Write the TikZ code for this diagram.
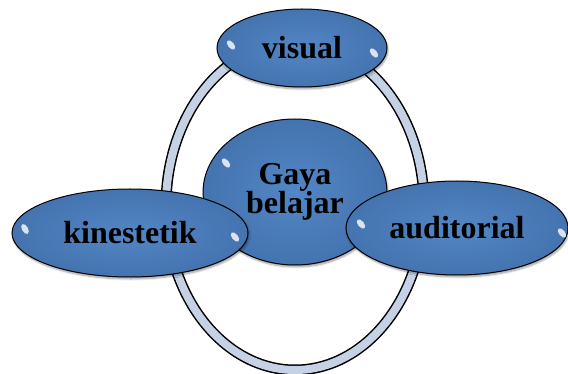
\documentclass[tikz,border=0pt]{standalone}
\usepackage{fontspec}
\setmainfont{Liberation Serif}
\usetikzlibrary{shapes.geometric,shadows.blur}
\definecolor{bubble}{HTML}{5286C4}
\definecolor{bubbleedge}{HTML}{4474B0}
\definecolor{ringfill}{HTML}{C5D1E4}
\tikzset{
  bub/.style={ellipse, draw=black, line width=1pt, inner color=bubble, outer color=bubbleedge,
    blur shadow={shadow xshift=1pt, shadow yshift=-2pt, shadow blur steps=6, shadow opacity=40},
    font=\bfseries\fontsize{32}{34}\selectfont, text=black, inner sep=0pt},
  glint/.style={fill=white, opacity=0.8, ellipse, inner sep=0pt, minimum width=6pt, minimum height=11pt}
}
\begin{document}
\begin{tikzpicture}[x=1pt,y=-1pt]
\useasboundingbox (0,0) rectangle (568,374);
% ring
\draw[line width=11pt, black] (295,206) ellipse [x radius=129, y radius=164];
\draw[line width=8pt, ringfill] (295,206) ellipse [x radius=129, y radius=164];
% nodes
\node[bub, minimum width=180pt, minimum height=146pt, align=center, text width=130pt] (center) at (295,192) {Gaya\\[-5pt]belajar};
\node[bub, minimum width=170pt, minimum height=78pt] (visual) at (302,48) {visual};
\node[bub, minimum width=236pt, minimum height=88pt] (kin) at (130,233) {kinestetik};
\node[bub, minimum width=222pt, minimum height=94pt] (aud) at (457,228) {auditorial};
% glints
\node[glint, rotate=40] (g1) at (231,45) {};
\node[glint, rotate=40] (g2) at (374,53) {};
\node[glint, rotate=30] (g3) at (25,229) {};
\node[glint, rotate=40] (g4) at (235,237) {};
\node[glint, rotate=40] (g5) at (361,224) {};
\node[glint, rotate=40] (g6) at (562,233) {};
\node[glint, rotate=40] (g7) at (226,163) {};
\end{tikzpicture}
\end{document}
